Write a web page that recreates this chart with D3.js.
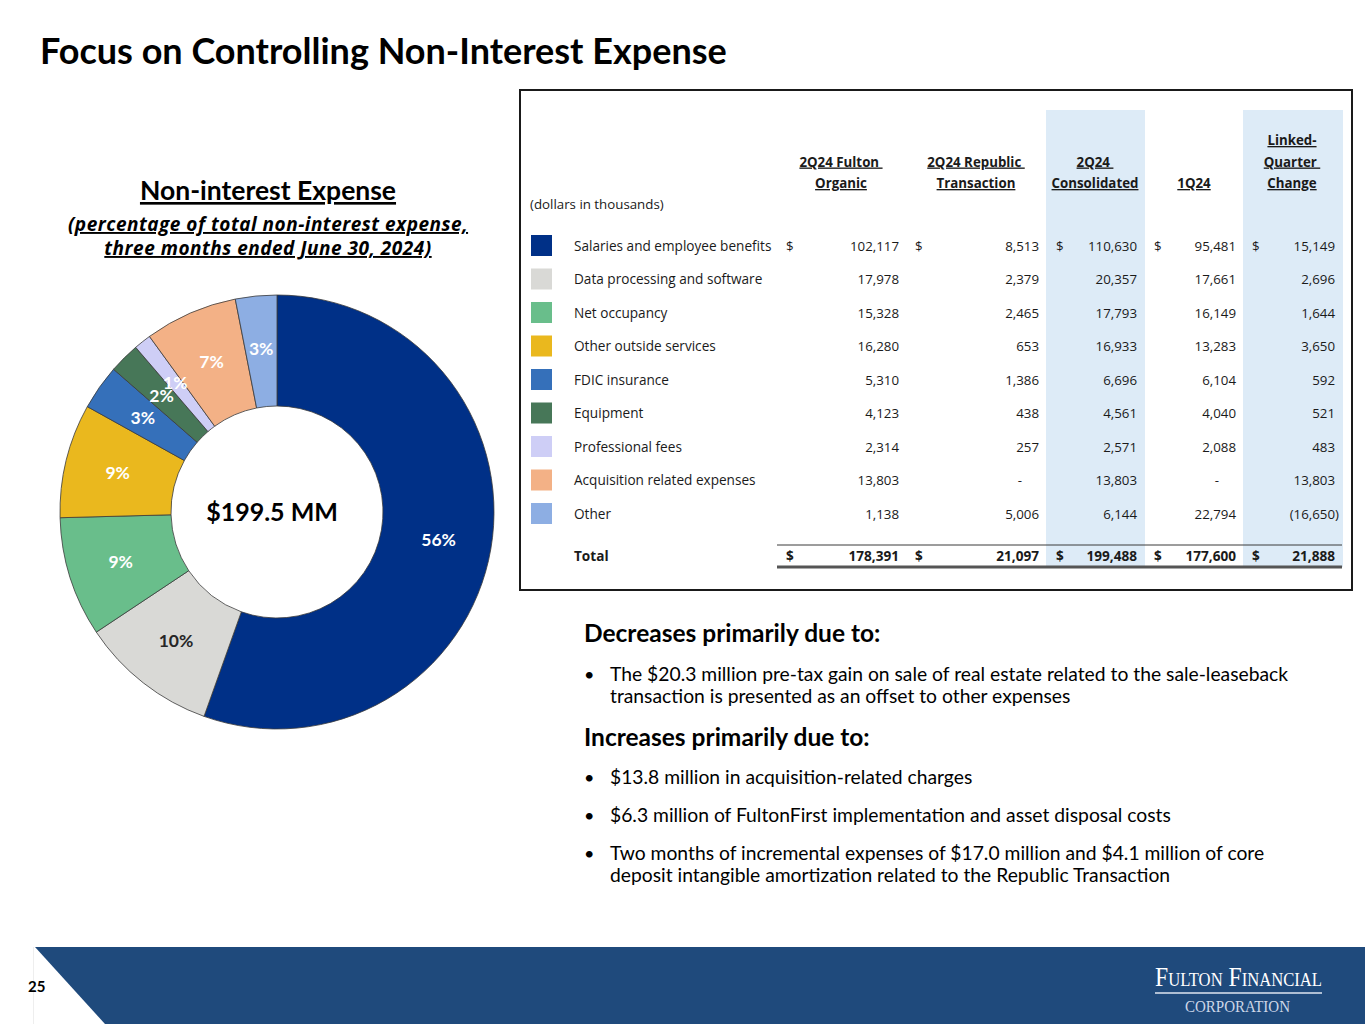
<!DOCTYPE html>
<html>
<head>
<meta charset="utf-8">
<script src="https://cdn.jsdelivr.net/npm/d3@7/dist/d3.min.js"></script>
<style>
  body { margin: 0; background: #fff; }
  svg { display: block; }
  text { white-space: pre; }
</style>
</head>
<body>
<svg id="slide" width="1365" height="1024"></svg>
<script>
// expense categories, in table / donut order
const categories = [
  'Salaries and employee benefits',
  'Data processing and software',
  'Net occupancy',
  'Other outside services',
  'FDIC insurance',
  'Equipment',
  'Professional fees',
  'Acquisition related expenses',
  'Other'
]
const organic = [102117, 17978, 15328, 16280, 5310, 4123, 2314, 13803, 1138]
const republic = [8513, 2379, 2465, 653, 1386, 438, 257, null, 5006]
const consolidated = [110630, 20357, 17793, 16933, 6696, 4561, 2571, 13803, 6144]
const q1 = [95481, 17661, 16149, 13283, 6104, 4040, 2088, null, 22794]
const change = [15149, 2696, 1644, 3650, 592, 521, 483, 13803, -16650]
const totals = [178391, 21097, 199488, 177600, 21888]
// labels as printed on the donut
const pctLabels = ['56%', '10%', '9%', '9%', '3%', '2%', '1%', '7%', '3%']
const centerLabel = '$199.5 MM'
const headers = [
  ['2Q24 Fulton ', 'Organic'],
  ['2Q24 Republic ', 'Transaction'],
  ['2Q24 ', 'Consolidated'],
  ['1Q24'],
  ['Linked-', 'Quarter ', 'Change']
]
const decreases = [
  ['The $20.3 million pre-tax gain on sale of real estate related to the sale-leaseback',
    'transaction is presented as an offset to other expenses']
]
const increases = [
  ['$13.8 million in acquisition-related charges'],
  ['$6.3 million of FultonFirst implementation and asset disposal costs'],
  ['Two months of incremental expenses of $17.0 million and $4.1 million of core',
    'deposit intangible amortization related to the Republic Transaction']
]

const sliceColors = ['#003087', '#d9d9d6', '#69be8b', '#eab81e', '#3570ba', '#477758', '#cecef6', '#f3b186', '#8daee3']
const labelColors = ['#fff', '#262626', '#fff', '#fff', '#fff', '#fff', '#fff', '#fff', '#fff']

const bodyFont = 'Lato, "Noto Sans", sans-serif'
const tableFont = '"Open Sans", "Noto Sans", sans-serif'

const svg = d3.select('#slide')

// ---- title
svg.append('text')
  .attr('x', 40).attr('y', 64)
  .attr('font-family', bodyFont).attr('font-weight', 700).attr('font-size', 36)
  .attr('fill', '#000')
  .text('Focus on Controlling Non-Interest Expense')

// ---- donut heading
const heading = svg.append('g').attr('text-anchor', 'middle')
  .attr('fill', '#000').attr('font-weight', 700).style('text-decoration', 'underline')
heading.append('text').attr('x', 268).attr('y', 200)
  .attr('font-family', bodyFont).attr('font-size', 26.5).text('Non-interest Expense')
heading.append('text').attr('x', 268).attr('y', 231)
  .attr('font-family', tableFont).attr('font-size', 19).attr('font-style', 'italic')
  .attr('letter-spacing', 0.5)
  .text('(percentage of total non-interest expense,')
heading.append('text').attr('x', 268).attr('y', 255)
  .attr('font-family', tableFont).attr('font-size', 19).attr('font-style', 'italic')
  .attr('letter-spacing', 0.5)
  .text('three months ended June 30, 2024)')

// ---- donut
const cx = 277
const cy = 512
const outerR = 217
const innerR = 106

const pie = d3.pie().sort(null).value(d => d)
const arc = d3.arc().innerRadius(innerR).outerRadius(outerR)
const labelArc = d3.arc().innerRadius(innerR + 58).outerRadius(innerR + 58)
const arcs = pie(consolidated)

const donut = svg.append('g').attr('transform', `translate(${cx},${cy})`)
donut.selectAll('path.slice')
  .data(arcs)
  .join('path')
  .attr('class', 'slice')
  .attr('d', arc)
  .attr('fill', (d, i) => sliceColors[i])
  .attr('stroke', '#3a3a3a')
  .attr('stroke-width', 0.8)

donut.selectAll('text.pct')
  .data(arcs)
  .join('text')
  .attr('class', 'pct')
  .attr('transform', d => `translate(${labelArc.centroid(d)})`)
  .attr('text-anchor', 'middle')
  .attr('dy', '0.35em')
  .attr('font-family', bodyFont).attr('font-weight', 700).attr('font-size', 17.5)
  .attr('fill', (d, i) => labelColors[i])
  .text((d, i) => pctLabels[i])

donut.append('text')
  .attr('x', -5).attr('y', 0).attr('dy', '0.35em')
  .attr('text-anchor', 'middle')
  .attr('font-family', bodyFont).attr('font-weight', 700).attr('font-size', 25)
  .attr('fill', '#000')
  .text(centerLabel)

// ---- table
const table = svg.append('g').attr('font-family', tableFont).attr('fill', '#1a1a1a')

const colRight = [899, 1039, 1137, 1236, 1335]
const colDollar = [786, 915, 1056, 1154, 1252]
const colCenter = [841, 976, 1095, 1194, 1292]
const bands = [[1046, 1145], [1243, 1343]]

table.append('rect')
  .attr('x', 520).attr('y', 90).attr('width', 832).attr('height', 500)
  .attr('fill', '#fff').attr('stroke', '#1a1a1a').attr('stroke-width', 2)

table.selectAll('rect.band')
  .data(bands)
  .join('rect')
  .attr('class', 'band')
  .attr('x', d => d[0]).attr('y', 110)
  .attr('width', d => d[1] - d[0]).attr('height', 457)
  .attr('fill', '#ddebf7')

// headers, bottom-aligned
headers.forEach((lines, c) => {
  lines.forEach((line, k) => {
    table.append('text')
      .attr('x', colCenter[c])
      .attr('y', 188 - (lines.length - 1 - k) * 21.5)
      .attr('text-anchor', 'middle')
      .attr('font-size', 13.3).attr('font-weight', 700)
      .style('text-decoration', 'underline')
      .text(line)
  })
})

table.append('text')
  .attr('x', 530).attr('y', 209)
  .attr('font-size', 13.3)
  .text('(dollars in thousands)')

const y = d3.scalePoint().domain(categories).range([246, 514])
const fmt = v => v == null ? '-' : (v < 0 ? '(' + d3.format(',')(-v) + ')' : d3.format(',')(v))
const columns = [organic, republic, consolidated, q1, change]

const rows = table.selectAll('g.row')
  .data(categories)
  .join('g')
  .attr('class', 'row')
  .attr('transform', d => `translate(0,${y(d)})`)

rows.append('rect')
  .attr('x', 531).attr('y', -11).attr('width', 21).attr('height', 21)
  .attr('fill', (d, i) => sliceColors[i])

rows.append('text')
  .attr('x', 574).attr('dy', '0.35em')
  .attr('font-size', 13.6)
  .text(d => d)

columns.forEach((vals, c) => {
  rows.append('text')
    .attr('x', (d, i) => vals[i] == null ? colRight[c] - 17 : colRight[c] + (vals[i] < 0 ? 4 : 0))
    .attr('dy', '0.35em')
    .attr('text-anchor', 'end')
    .attr('font-size', 13.3)
    .text((d, i) => fmt(vals[i]))
})

// dollar signs on first row
colDollar.forEach(x => {
  table.append('text')
    .attr('x', x).attr('y', y(categories[0])).attr('dy', '0.35em')
    .attr('font-size', 13.3)
    .text('$')
})

// total row
const totalY = 556
table.append('line')
  .attr('x1', 777).attr('x2', 1342).attr('y1', 545).attr('y2', 545)
  .attr('stroke', '#3a3a3a').attr('stroke-width', 1)
table.append('line')
  .attr('x1', 777).attr('x2', 1342).attr('y1', 567).attr('y2', 567)
  .attr('stroke', '#555').attr('stroke-width', 3)

table.append('text')
  .attr('x', 574).attr('y', totalY).attr('dy', '0.35em')
  .attr('font-size', 13.6).attr('font-weight', 700)
  .text('Total')

totals.forEach((v, c) => {
  table.append('text')
    .attr('x', colDollar[c]).attr('y', totalY).attr('dy', '0.35em')
    .attr('font-size', 13.6).attr('font-weight', 700)
    .text('$')
  table.append('text')
    .attr('x', colRight[c]).attr('y', totalY).attr('dy', '0.35em')
    .attr('text-anchor', 'end')
    .attr('font-size', 13.6).attr('font-weight', 700)
    .text(fmt(v))
})

// ---- commentary
const notes = svg.append('g').attr('font-family', bodyFont).attr('fill', '#000')

function plotBullets (items, startY) {
  var yy = startY
  items.forEach(lines => {
    notes.append('text').attr('x', 584).attr('y', yy).attr('font-size', 18).text('•')
    lines.forEach((line, k) => {
      notes.append('text').attr('x', 610).attr('y', yy + k * 22).attr('font-size', 19.3).text(line)
    })
    yy += 38 + (lines.length - 1) * 22
  })
}

notes.append('text').attr('x', 584).attr('y', 642)
  .attr('font-size', 24.5).attr('font-weight', 700)
  .text('Decreases primarily due to:')
plotBullets(decreases, 681)

notes.append('text').attr('x', 584).attr('y', 746)
  .attr('font-size', 24.5).attr('font-weight', 700)
  .text('Increases primarily due to:')
plotBullets(increases, 784)

// ---- footer band
svg.append('polygon')
  .attr('points', '35,947 1365,947 1365,1024 105,1024')
  .attr('fill', '#1f4a7c')

svg.append('line')
  .attr('x1', 33.5).attr('x2', 33.5).attr('y1', 947).attr('y2', 1024)
  .attr('stroke', '#eeeeee').attr('stroke-width', 1)

svg.append('text')
  .attr('x', 28).attr('y', 992)
  .attr('font-family', bodyFont).attr('font-weight', 700).attr('font-size', 15)
  .attr('fill', '#000')
  .text('25')

const logo = svg.append('g').attr('font-family', '"Liberation Serif", "DejaVu Serif", serif')
logo.append('text')
  .attr('x', 1155).attr('y', 986)
  .attr('fill', '#fff').attr('font-size', 27)
  .style('font-variant', 'small-caps')
  .attr('textLength', 167).attr('lengthAdjust', 'spacingAndGlyphs')
  .text('Fulton Financial')

logo.append('line')
  .attr('x1', 1155).attr('x2', 1322).attr('y1', 993).attr('y2', 993)
  .attr('stroke', '#dfe6f0').attr('stroke-width', 1.5)

logo.append('text')
  .attr('x', 1185).attr('y', 1012)
  .attr('fill', '#cdd7e8').attr('font-size', 17)
  .attr('textLength', 105).attr('lengthAdjust', 'spacingAndGlyphs')
  .text('CORPORATION')
</script>
</body>
</html>
